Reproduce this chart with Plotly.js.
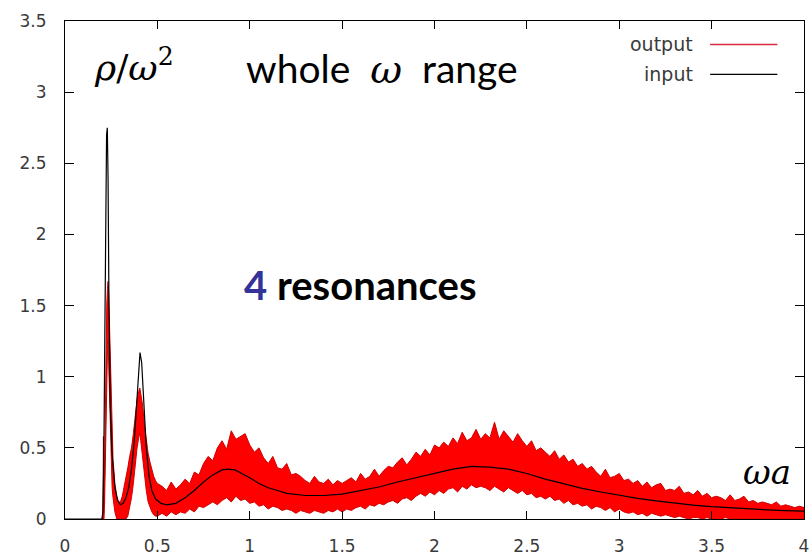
<!DOCTYPE html>
<html>
<head>
<meta charset="utf-8">
<script src="https://cdn.plot.ly/plotly-3.0.1.min.js"></script>
<style>html,body{margin:0;padding:0;background:#fff;}#chart{width:810px;height:560px;}</style>
</head>
<body>
<div id="chart"></div>
<script>
// ---- input (black) curve ----
const inputX = [0, 0.2, 0.205, 0.21, 0.215, 0.22, 0.225, 0.229, 0.233, 0.238, 0.245, 0.255, 0.27, 0.285, 0.3, 0.315, 0.33, 0.345, 0.36, 0.375, 0.39, 0.4, 0.406, 0.415, 0.425, 0.44, 0.455, 0.47, 0.49, 0.52, 0.55, 0.6, 0.65, 0.7, 0.75, 0.8, 0.85, 0.88, 0.92, 0.96, 1.0, 1.05, 1.1, 1.15, 1.2, 1.3, 1.4, 1.5, 1.6, 1.7, 1.8, 1.9, 2.0, 2.1, 2.2, 2.3, 2.4, 2.5, 2.6, 2.7, 2.8, 2.9, 3.0, 3.1, 3.2, 3.3, 3.4, 3.5, 3.6, 3.7, 3.8, 3.9, 4.0];
const inputY = [0, 0, 0.05, 0.4, 1.2, 2.3, 2.7, 2.75, 2.4, 1.5, 0.8, 0.45, 0.22, 0.13, 0.1, 0.11, 0.15, 0.22, 0.35, 0.55, 0.85, 1.05, 1.17, 1.1, 0.85, 0.5, 0.3, 0.2, 0.14, 0.11, 0.1, 0.11, 0.15, 0.2, 0.26, 0.31, 0.345, 0.35, 0.345, 0.32, 0.29, 0.25, 0.22, 0.2, 0.18, 0.165, 0.165, 0.175, 0.2, 0.225, 0.26, 0.29, 0.32, 0.35, 0.37, 0.365, 0.35, 0.32, 0.28, 0.245, 0.215, 0.19, 0.165, 0.145, 0.128, 0.112, 0.098, 0.087, 0.078, 0.07, 0.064, 0.059, 0.055];

// ---- output (red, noisy) band: upper / lower envelopes ----
const outXPeaks = [0.2, 0.205, 0.208, 0.211, 0.214, 0.218, 0.222, 0.226, 0.230, 0.233, 0.236, 0.24, 0.245, 0.25, 0.255, 0.26, 0.27, 0.28, 0.29, 0.30, 0.31, 0.32, 0.33, 0.34, 0.35, 0.36, 0.37, 0.38, 0.39, 0.40, 0.405, 0.41, 0.42, 0.43, 0.44, 0.45, 0.46, 0.47, 0.48, 0.49, 0.50];
const outHiPeaks = [0, 0.02, 0.58, 0.1, 0.3, 0.8, 1.3, 1.5, 1.62, 1.67, 1.6, 1.4, 1.05, 0.75, 0.55, 0.42, 0.25, 0.16, 0.12, 0.12, 0.16, 0.22, 0.3, 0.36, 0.44, 0.5, 0.6, 0.72, 0.84, 0.9, 0.92, 0.88, 0.8, 0.66, 0.55, 0.46, 0.4, 0.34, 0.3, 0.27, 0.25];
const outLoPeaks = [0, 0, 0, 0, 0.1, 0.4, 0.8, 1.1, 1.2, 1.25, 1.1, 0.85, 0.55, 0.35, 0.22, 0.15, 0.05, 0, 0, 0, 0, 0, 0, 0.02, 0.08, 0.15, 0.25, 0.4, 0.5, 0.58, 0.6, 0.55, 0.42, 0.3, 0.2, 0.12, 0.08, 0.05, 0.03, 0.02, 0.02];

const outXTail = [0.525,0.55,0.575,0.6,0.625,0.65,0.675,0.7,0.725,0.75,0.775,0.8,0.825,0.85,0.875,0.9,0.925,0.95,0.975,1.0,1.025,1.05,1.075,1.1,1.125,1.15,1.175,1.2,1.225,1.25,1.275,1.3,1.325,1.35,1.375,1.4,1.425,1.45,1.475,1.5,1.525,1.55,1.575,1.6,1.625,1.65,1.675,1.7,1.725,1.75,1.775,1.8,1.825,1.85,1.875,1.9,1.925,1.95,1.975,2.0,2.025,2.05,2.075,2.1,2.125,2.15,2.175,2.2,2.225,2.25,2.275,2.3,2.325,2.35,2.375,2.4,2.425,2.45,2.475,2.5,2.525,2.55,2.575,2.6,2.625,2.65,2.675,2.7,2.725,2.75,2.775,2.8,2.825,2.85,2.875,2.9,2.925,2.95,2.975,3.0,3.025,3.05,3.075,3.1,3.125,3.15,3.175,3.2,3.225,3.25,3.275,3.3,3.325,3.35,3.375,3.4,3.425,3.45,3.475,3.5,3.525,3.55,3.575,3.6,3.625,3.65,3.675,3.7,3.725,3.75,3.775,3.8,3.825,3.85,3.875,3.9,3.925,3.95,3.975,4.0];
const outHiTail = [
  0.23,0.2,0.26,0.21,0.24,0.28,0.25,0.33,0.31,0.39,
  0.44,0.41,0.5,0.55,0.49,0.62,0.56,0.58,0.6,0.52,
  0.47,0.5,0.43,0.39,0.44,0.36,0.35,0.39,0.31,0.32,
  0.3,0.27,0.25,0.3,0.26,0.25,0.28,0.24,0.27,0.25,
  0.27,0.29,0.26,0.32,0.28,0.3,0.35,0.3,0.34,0.37,
  0.36,0.4,0.43,0.38,0.42,0.47,0.44,0.49,0.45,0.52,
  0.5,0.54,0.51,0.57,0.53,0.61,0.55,0.57,0.63,0.56,
  0.6,0.57,0.68,0.56,0.62,0.58,0.54,0.6,0.55,0.51,
  0.55,0.48,0.5,0.47,0.44,0.48,0.42,0.45,0.4,0.42,
  0.37,0.39,0.35,0.37,0.33,0.3,0.35,0.29,0.3,0.32,
  0.27,0.28,0.25,0.27,0.23,0.26,0.22,0.24,0.25,0.2,
  0.21,0.2,0.23,0.18,0.19,0.17,0.2,0.16,0.18,0.15,
  0.16,0.15,0.13,0.17,0.13,0.14,0.16,0.12,0.13,0.11,
  0.12,0.11,0.1,0.12,0.09,0.1,0.09,0.08,0.09,0.08];
const outLoTail = [
  0.04,0.02,0.05,0.03,0.05,0.04,0.07,0.05,0.09,0.08,
  0.1,0.12,0.1,0.13,0.15,0.12,0.16,0.13,0.14,0.11,
  0.12,0.09,0.1,0.07,0.09,0.08,0.06,0.07,0.06,0.04,
  0.06,0.05,0.04,0.06,0.05,0.04,0.06,0.05,0.07,0.05,
  0.07,0.06,0.08,0.09,0.07,0.1,0.09,0.11,0.1,0.12,
  0.13,0.11,0.14,0.15,0.13,0.16,0.18,0.16,0.19,0.17,
  0.2,0.18,0.21,0.22,0.19,0.23,0.21,0.24,0.22,0.23,
  0.22,0.2,0.23,0.21,0.19,0.22,0.2,0.18,0.2,0.17,
  0.18,0.15,0.16,0.14,0.16,0.13,0.14,0.11,0.13,0.1,
  0.11,0.09,0.1,0.07,0.09,0.08,0.06,0.08,0.05,0.07,
  0.05,0.04,0.05,0.03,0.04,0.02,0.04,0.03,0.02,0.03,
  0.02,0.01,0.02,0.01,0,0.01,0.01,0,0.01,0,
  0,0,0.01,0,0,0,0,0,0,0,
  0,0,0,0,0,0,0,0,0,0];

const xTickVals = [0, 0.5, 1, 1.5, 2, 2.5, 3, 3.5, 4];
const xTickText = ['0', '0.5', '1', '1.5', '2', '2.5', '3', '3.5', '4'];
const yTickVals = [0, 0.5, 1, 1.5, 2, 2.5, 3, 3.5];
const yTickText = ['0', '0.5', '1', '1.5', '2', '2.5', '3', '3.5'];
const seriesNames = ['output', 'input'];

const outX = outXPeaks.concat(outXTail);
const outHi = outHiPeaks.concat(outHiTail);
const outLo = outLoPeaks.concat(outLoTail);

const traces = [
  {x: outX, y: outLo, type: 'scatter', mode: 'lines', line: {color: '#d00000', width: 1}, showlegend: false, hoverinfo: 'skip'},
  {x: outX, y: outHi, type: 'scatter', mode: 'lines', fill: 'tonexty', fillcolor: '#ff0000', line: {color: '#cc0000', width: 1}, name: seriesNames[0], showlegend: false},
  {x: inputX, y: inputY, type: 'scatter', mode: 'lines', line: {color: '#000000', width: 1.2}, name: seriesNames[1], showlegend: false}
];

const tickFont = {family: 'DejaVu Sans, sans-serif', size: 17, color: '#3a3a3a'};
const mathFont = {family: 'DejaVu Serif, serif', size: 36, color: '#000'};
const legFont = {family: 'DejaVu Sans, sans-serif', size: 19, color: '#3a3a3a'};

const layout = {
  width: 810, height: 560,
  margin: {l: 65, r: 6, t: 21, b: 41},
  paper_bgcolor: '#fff', plot_bgcolor: '#fff',
  showlegend: false,
  xaxis: {range: [0, 4], tickvals: xTickVals, ticktext: xTickText, ticks: 'inside', ticklen: 8, tickcolor: '#000',
          showline: true, linecolor: '#000', linewidth: 1, mirror: 'ticks', showgrid: false, zeroline: false,
          tickfont: tickFont, ticklabelstandoff: 12},
  yaxis: {range: [0, 3.5], tickvals: yTickVals, ticktext: yTickText, ticks: 'inside', ticklen: 9, tickcolor: '#000',
          showline: true, linecolor: '#000', linewidth: 1, mirror: 'ticks', showgrid: false, zeroline: false,
          tickfont: tickFont, ticklabelstandoff: 14},
  annotations: [
    {xref: 'paper', yref: 'paper', x: 0.036, y: 0.912, xanchor: 'left', yanchor: 'middle', showarrow: false,
     text: '<i>ρ</i>/<i>ω</i><sup>2</sup>', font: mathFont},
    {xref: 'paper', yref: 'paper', x: 0.242, y: 0.905, xanchor: 'left', yanchor: 'middle', showarrow: false,
     text: 'whole  <i style="font-family:DejaVu Serif">ω</i>  range', font: {family: 'Lato, Open Sans, sans-serif', size: 39, color: '#000'}},
    {xref: 'paper', yref: 'paper', x: 0.24, y: 0.47, xanchor: 'left', yanchor: 'middle', showarrow: false,
     text: '<b><span style="color:#33339a">4</span> resonances</b>', font: {family: 'Lato, Open Sans, sans-serif', size: 40, color: '#000'}},
    {xref: 'paper', yref: 'paper', x: 0.985, y: 0.095, xanchor: 'right', yanchor: 'middle', showarrow: false,
     text: '<i>ωa</i>', font: {family: 'DejaVu Serif, serif', size: 34, color: '#000'}},
    {xref: 'paper', yref: 'paper', x: 0.852, y: 0.953, xanchor: 'right', yanchor: 'middle', showarrow: false,
     text: seriesNames[0], font: legFont},
    {xref: 'paper', yref: 'paper', x: 0.852, y: 0.893, xanchor: 'right', yanchor: 'middle', showarrow: false,
     text: seriesNames[1], font: legFont}
  ],
  shapes: [
    {type: 'line', xref: 'paper', yref: 'paper', x0: 0.873, x1: 0.964, y0: 0.953, y1: 0.953, line: {color: '#d8283c', width: 1.5}},
    {type: 'line', xref: 'paper', yref: 'paper', x0: 0.873, x1: 0.964, y0: 0.893, y1: 0.893, line: {color: '#000', width: 1.2}}
  ]
};

Plotly.newPlot('chart', traces, layout, {staticPlot: true, displayModeBar: false});
</script>
</body>
</html>
